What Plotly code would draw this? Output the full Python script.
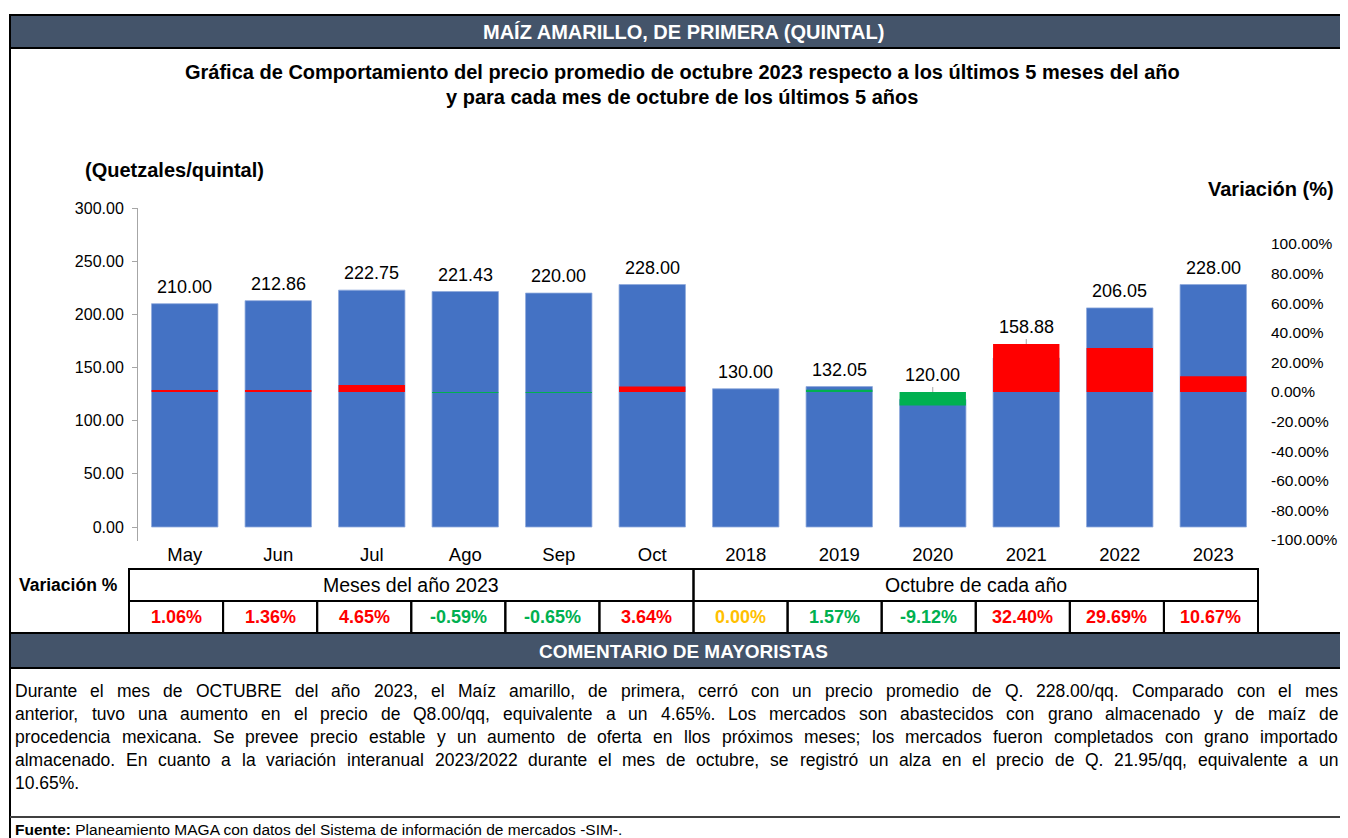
import plotly.graph_objects as go

# ---------------- data ----------------
categories = ["May", "Jun", "Jul", "Ago", "Sep", "Oct", "2018", "2019", "2020", "2021", "2022", "2023"]
prices = [210.00, 212.86, 222.75, 221.43, 220.00, 228.00, 130.00, 132.05, 120.00, 158.88, 206.05, 228.00]
variation = [1.06, 1.36, 4.65, -0.59, -0.65, 3.64, 0.00, 1.57, -9.12, 32.40, 29.69, 10.67]
var_colors = ["#FF0000", "#FF0000", "#FF0000", "#00B050", "#00B050", "#FF0000",
              "#FFC000", "#00B050", "#00B050", "#FF0000", "#FF0000", "#FF0000"]
y_ticks = [0, 50, 100, 150, 200, 250, 300]
y2_ticks = [-100, -80, -60, -40, -20, 0, 20, 40, 60, 80, 100]
group_labels = ["Meses del año 2023", "Octubre de cada año"]

comment_lines = [
    "Durante el mes de OCTUBRE del año 2023, el Maíz amarillo, de primera, cerró con un precio promedio de Q. 228.00/qq. Comparado con el mes",
    "anterior, tuvo una aumento en el precio de Q8.00/qq, equivalente a un 4.65%. Los mercados son abastecidos con grano almacenado y de maíz de",
    "procedencia mexicana. Se prevee precio estable y un aumento de oferta en llos próximos meses; los mercados fueron completados con grano importado",
    "almacenado. En cuanto a la variación interanual 2023/2022 durante el mes de octubre, se registró un alza en el precio de Q. 21.95/qq, equivalente a un",
    "10.65%.",
]

# ---------------- styling helpers ----------------
OFF = 8                      # page body margin in the browser
WF, HF = 1332, 830           # figure size
FONT = "Liberation Sans, Arial, sans-serif"
HEADER_BG = "#44546A"
BLUE = "#4472C4"


def X(px):
    return (px - OFF) / WF


def Y(py):
    return 1 - (py - OFF) / HF


# Arial / Liberation Sans advance widths (1/1000 em) used to justify the comment text
_W = {" ": 278, ",": 278, ".": 278, ";": 278, ":": 278, "/": 278, "%": 889, "-": 333, "(": 333, ")": 333,
      "A": 667, "B": 667, "C": 722, "D": 722, "E": 667, "F": 611, "G": 778, "H": 722, "I": 278, "J": 500,
      "K": 667, "L": 556, "M": 833, "N": 722, "O": 778, "P": 667, "Q": 778, "R": 722, "S": 667, "T": 611,
      "U": 722, "V": 667, "W": 944, "X": 667, "Y": 667, "Z": 611,
      "a": 556, "b": 556, "c": 500, "d": 556, "e": 556, "f": 278, "g": 556, "h": 556, "i": 222, "j": 222,
      "k": 500, "l": 222, "m": 833, "n": 556, "o": 556, "p": 556, "q": 556, "r": 333, "s": 500, "t": 278,
      "u": 556, "v": 500, "w": 722, "x": 500, "y": 500, "z": 500,
      "á": 556, "é": 556, "í": 278, "ó": 556, "ú": 556, "ñ": 556}


def text_w(s, size):
    return sum(_W.get(ch, 556) for ch in s) / 1000 * size


# ---------------- axis geometry (screen pixels of the reference) ----------------
plot_top, zero_px, plot_bot = 208, 527, 541
y_scale = (zero_px - plot_top) / 300.0           # pixels per quetzal
y_range = [-(plot_bot - zero_px) / y_scale, 300]
y_dom = [Y(plot_bot), Y(plot_top)]
y2_zero_px, y2_scale = 392.0, 1.48               # pixel of 0 %, pixels per 1 %
y2_range = [-(plot_bot - y2_zero_px) / y2_scale, (y2_zero_px - plot_top) / y2_scale]


def y2_to_y(v):
    py = y2_zero_px - v * y2_scale
    return (zero_px - py) / y_scale


fig = go.Figure()
fig.add_trace(go.Bar(x=categories, y=prices, xaxis="x", yaxis="y", showlegend=False, name="Precio",
                     marker=dict(color=BLUE, line=dict(color="#8FAADC", width=0.8))))
fig.add_trace(go.Bar(x=categories, y=variation, xaxis="x", yaxis="y2", showlegend=False, name="Variación",
                     marker=dict(color=var_colors, line=dict(width=0))))

annotations = []
shapes = []


def note(px, py, text, size, color="#000", xa="center", ya="middle", bold=False):
    annotations.append(dict(xref="paper", yref="paper", x=X(px), y=Y(py), xanchor=xa, yanchor=ya,
                            text=f"<b>{text}</b>" if bold else text, showarrow=False,
                            font=dict(family=FONT, size=size, color=color)))


# data labels above the bars (above the variation bar when it is taller);
# x given as the category index so numeric-looking names ("2018") are not read as positions
for i, (p, v) in enumerate(zip(prices, variation)):
    top = max(p, y2_to_y(max(v, 0)))
    annotations.append(dict(x=i, y=top, xref="x", yref="y", text=f"{p:.2f}", showarrow=False,
                            xanchor="center", yanchor="bottom", yshift=5,
                            font=dict(family=FONT, size=18, color="#000")))
    if top > p + 1:   # leader line from the label down to the bar
        shapes.append(dict(type="line", xref="x", yref="y", x0=i, x1=i, y0=top, y1=top + 5 / y_scale,
                           line=dict(color="#A6A6A6", width=1)))

# header band
shapes.append(dict(type="rect", xref="paper", yref="paper", x0=X(10), x1=X(1360), y0=Y(48), y1=Y(15),
                   fillcolor=HEADER_BG, line=dict(color="#000", width=2), layer="below"))
note(683, 32, "MAÍZ AMARILLO, DE PRIMERA (QUINTAL)", 20, "#FFFFFF", bold=True)
# left border
shapes.append(dict(type="line", xref="paper", yref="paper", x0=X(10), x1=X(10), y0=Y(850), y1=Y(15),
                   line=dict(color="#000", width=2)))
# titles
note(682, 72, "Gráfica de Comportamiento del precio promedio de octubre 2023 respecto a los últimos 5 meses del año", 20, bold=True)
note(682, 97, "y para cada mes de octubre de los últimos 5 años", 20, bold=True)
note(83, 170, "(Quetzales/quintal)", 20, xa="left", bold=True)
note(1336, 189, "Variación (%)", 20, xa="right", bold=True)

# variation table
tbl_left, tbl_right = 129, 1258
cell_w = (tbl_right - tbl_left) / len(categories)
r1_top, r1_bot, r2_bot = 569, 601, 633
note(68, 585, "Variación %", 17.5, bold=True)
half = len(categories) // 2
for gi, lab in enumerate(group_labels):
    x0 = tbl_left + gi * half * cell_w
    x1 = x0 + half * cell_w
    shapes.append(dict(type="rect", xref="paper", yref="paper", x0=X(x0), x1=X(x1), y0=Y(r1_bot), y1=Y(r1_top),
                       line=dict(color="#000", width=2)))
    note((x0 + x1) / 2, (r1_top + r1_bot) / 2, lab, 19.5)
for i, (v, col) in enumerate(zip(variation, var_colors)):
    x0 = tbl_left + i * cell_w
    shapes.append(dict(type="rect", xref="paper", yref="paper", x0=X(x0), x1=X(x0 + cell_w), y0=Y(r2_bot), y1=Y(r1_bot),
                       line=dict(color="#000", width=2)))
    note(x0 + cell_w / 2, (r1_bot + r2_bot) / 2, f"{v:.2f}%", 18, col, bold=True)

# comment band
shapes.append(dict(type="rect", xref="paper", yref="paper", x0=X(10), x1=X(1360), y0=Y(668), y1=Y(633),
                   fillcolor=HEADER_BG, line=dict(color="#000", width=2), layer="below"))
note(683, 651, "COMENTARIO DE MAYORISTAS", 19, "#FFFFFF", bold=True)

# justified comment text
CSIZE = 17.5
left_px, right_px = 13, 1336
for i, line in enumerate(comment_lines):
    py = 691 + i * 23
    words = line.split(" ")
    if i == len(comment_lines) - 1:
        note(left_px, py, line, CSIZE, xa="left")
        continue
    widths = [text_w(w, CSIZE) for w in words]
    gap = (right_px - left_px - sum(widths)) / (len(words) - 1)
    x = left_px
    for w, wd in zip(words, widths):
        note(x, py, w, CSIZE, xa="left")
        x += wd + gap

shapes.append(dict(type="line", xref="paper", yref="paper", x0=X(10), x1=X(1360), y0=Y(817), y1=Y(817),
                   line=dict(color="#404040", width=2)))
note(13, 829, "<b>Fuente:</b> Planeamiento MAGA con datos del Sistema de información de mercados -SIM-.", 15.5, xa="left")

fig.update_layout(
    width=WF, height=HF, margin=dict(l=0, r=0, t=0, b=0, pad=0, autoexpand=False),
    paper_bgcolor="#FFFFFF", plot_bgcolor="rgba(0,0,0,0)",
    barmode="overlay", bargap=0.29, showlegend=False,
    font=dict(family=FONT, color="#000"),
    xaxis=dict(type="category", categoryorder="array", categoryarray=categories, automargin=False,
               domain=[X(138), X(1260)], anchor="y", showline=False, ticks="",
               showgrid=False, zeroline=False, tickfont=dict(family=FONT, size=18.5, color="#000"),
               fixedrange=True),
    yaxis=dict(domain=y_dom, range=y_range, tickvals=y_ticks, tickformat=".2f", showline=True, automargin=False,
               linecolor="#A6A6A6", linewidth=1, ticks="outside", ticklen=5, tickcolor="#A6A6A6",
               ticklabelstandoff=5, showgrid=False, zeroline=False,
               tickfont=dict(family=FONT, size=16, color="#000"), fixedrange=True),
    yaxis2=dict(overlaying="y", range=y2_range, anchor="free", position=X(1270), side="right", automargin=False,
                tickvals=y2_ticks, ticktext=[f"{t:.2f}%" for t in y2_ticks], showline=False, ticks="",
                showgrid=False, zeroline=False, tickfont=dict(family=FONT, size=15.5, color="#000"), fixedrange=True),
    shapes=shapes, annotations=annotations,
)

fig.write_html("out.html")
